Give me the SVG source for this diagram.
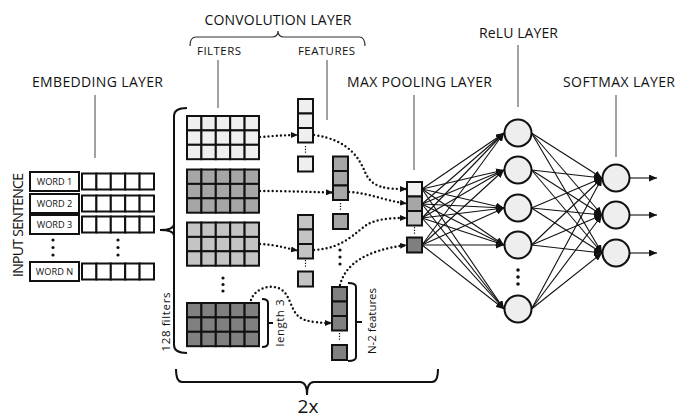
<svg xmlns="http://www.w3.org/2000/svg" xmlns:xlink="http://www.w3.org/1999/xlink" width="677" height="418" viewBox="0 0 677 418">
<style>
  text { font-family: "Open Sans", "Liberation Sans", sans-serif; fill: #111; }
  .lbl { font-size: 14px; }
  .sub { font-size: 11.5px; }
  .word { font-size: 9.2px; text-anchor: middle; }
  .cell { stroke: #111; stroke-width: 2; }
  .ptr { stroke: #444; stroke-width: 1; fill: none; }
  .brace { stroke: #111; stroke-width: 2; fill: none; }
  .dotted { stroke: #111; stroke-width: 2.4; stroke-dasharray: 0 4.2; stroke-linecap: round; fill: none; }
  .tiny { stroke: #111; stroke-width: 1.2; stroke-dasharray: 1.2 1.6; fill: none; }
  .net { stroke: #111; stroke-width: 1.1; fill: none; }
  .node { fill: #eeeeee; stroke: #111; stroke-width: 2; }
  .dot { fill: #111; }
</style>
<defs>
  <marker id="ah" markerUnits="userSpaceOnUse" markerWidth="8" markerHeight="7" refX="8" refY="3.5" orient="auto">
    <path d="M0,0 L8,3.5 L0,7 z" fill="#111"/>
  </marker>
  <marker id="ahs" markerUnits="userSpaceOnUse" markerWidth="7" markerHeight="6" refX="7" refY="3" orient="auto">
    <path d="M0,0 L7,3 L0,6 z" fill="#111"/>
  </marker>
  <g id="grid">
    <rect class="cell" x="0" y="0" width="14.4" height="14.4"/>
    <rect class="cell" x="14.4" y="0" width="14.4" height="14.4"/>
    <rect class="cell" x="28.8" y="0" width="14.4" height="14.4"/>
    <rect class="cell" x="43.2" y="0" width="14.4" height="14.4"/>
    <rect class="cell" x="57.6" y="0" width="14.4" height="14.4"/>
    <rect class="cell" x="0" y="14.4" width="14.4" height="14.4"/>
    <rect class="cell" x="14.4" y="14.4" width="14.4" height="14.4"/>
    <rect class="cell" x="28.8" y="14.4" width="14.4" height="14.4"/>
    <rect class="cell" x="43.2" y="14.4" width="14.4" height="14.4"/>
    <rect class="cell" x="57.6" y="14.4" width="14.4" height="14.4"/>
    <rect class="cell" x="0" y="28.8" width="14.4" height="14.4"/>
    <rect class="cell" x="14.4" y="28.8" width="14.4" height="14.4"/>
    <rect class="cell" x="28.8" y="28.8" width="14.4" height="14.4"/>
    <rect class="cell" x="43.2" y="28.8" width="14.4" height="14.4"/>
    <rect class="cell" x="57.6" y="28.8" width="14.4" height="14.4"/>
  </g>
  <g id="vec">
    <rect class="cell" x="0" y="0" width="14.4" height="16" fill="#fff"/>
    <rect class="cell" x="14.4" y="0" width="14.4" height="16" fill="#fff"/>
    <rect class="cell" x="28.8" y="0" width="14.4" height="16" fill="#fff"/>
    <rect class="cell" x="43.2" y="0" width="14.4" height="16" fill="#fff"/>
    <rect class="cell" x="57.6" y="0" width="14.4" height="16" fill="#fff"/>
  </g>
  <g id="col">
    <rect class="cell" x="0" y="0" width="15" height="14.5"/>
    <rect class="cell" x="0" y="14.5" width="15" height="14.5"/>
    <rect class="cell" x="0" y="29" width="15" height="14.5"/>
  </g>
</defs>

<!-- Labels and pointer lines -->
<g id="labels">
  <text class="lbl" x="278" y="25" text-anchor="middle" textLength="147">CONVOLUTION LAYER</text>
  <text class="sub" x="219" y="55" text-anchor="middle" textLength="44">FILTERS</text>
  <text class="sub" x="326.5" y="55" text-anchor="middle" textLength="57">FEATURES</text>
  <text class="lbl" x="97.5" y="87" text-anchor="middle" textLength="131">EMBEDDING LAYER</text>
  <text class="lbl" x="419.5" y="87" text-anchor="middle" textLength="145">MAX POOLING LAYER</text>
  <text class="lbl" x="518.5" y="38" text-anchor="middle" textLength="79">ReLU LAYER</text>
  <text class="lbl" x="619" y="87" text-anchor="middle" textLength="112">SOFTMAX LAYER</text>
  <text class="lbl" x="23" y="225" text-anchor="middle" transform="rotate(-90 23 225)" textLength="104">INPUT SENTENCE</text>
  <text class="sub" x="170" y="322" text-anchor="middle" transform="rotate(-90 170 322)" textLength="59">128 filters</text>
  <text class="sub" x="284" y="323" text-anchor="middle" transform="rotate(-90 284 323)" textLength="47">length 3</text>
  <text class="sub" x="376" y="321" text-anchor="middle" transform="rotate(-90 376 321)" textLength="66">N-2 features</text>
  <text x="308" y="413" text-anchor="middle" style="font-size:19px">2x</text>
  <path class="ptr" d="M95,95 V158 M218,60 V108 M327,60 V120 M414,95 V170 M518,45 V107 M616,95 V157"/>
  <path d="M190,46 Q190,37 196,37 L272,37 Q278,37 278,31 Q278,37 284,37 L359,37 Q365,37 365,46" fill="none" stroke="#333" stroke-width="1.2"/>
</g>

<!-- Braces -->
<g id="braces">
  <path class="brace" d="M187,108 Q174,108 174,116 L174,345 Q174,353 187,353"/>
  <path class="brace" d="M174,224 Q174,230 160,230 Q174,230 174,236"/>
  <path class="brace" d="M262,299 Q268,299 268,303 L268,343 Q268,347 262,347 M268,323 L273,323"/>
  <path class="brace" d="M348,283 Q356,283 356,287 L356,357 Q356,361 348,361 M356,322 L362,322"/>
  <path class="brace" d="M176,369 Q176,382 182,382 L300,382 Q307,382 307,395 Q307,382 314,382 L432,382 Q438,382 438,369"/>
</g>

<!-- Embedding layer -->
<g id="word1">
  <rect class="cell" x="30" y="172" width="49" height="19" fill="#fff"/>
  <text class="word" x="54.5" y="185">WORD 1</text>
  <use xlink:href="#vec" href="#vec" x="82" y="173.5"/>
</g>
<g id="word2">
  <rect class="cell" x="30" y="194" width="49" height="19" fill="#fff"/>
  <text class="word" x="54.5" y="207">WORD 2</text>
  <use xlink:href="#vec" href="#vec" x="82" y="195.5"/>
</g>
<g id="word3">
  <rect class="cell" x="30" y="215" width="49" height="19" fill="#fff"/>
  <text class="word" x="54.5" y="228">WORD 3</text>
  <use xlink:href="#vec" href="#vec" x="82" y="216.5"/>
</g>
<g id="wordN">
  <rect class="cell" x="30" y="262" width="49" height="19" fill="#fff"/>
  <text class="word" x="54.5" y="275">WORD N</text>
  <use xlink:href="#vec" href="#vec" x="82" y="263.5"/>
</g>
<g id="embed-dots">
  <circle class="dot" cx="53" cy="240" r="1.6"/><circle class="dot" cx="53" cy="247.5" r="1.6"/><circle class="dot" cx="53" cy="255" r="1.6"/>
  <circle class="dot" cx="118" cy="240" r="1.6"/><circle class="dot" cx="118" cy="247.5" r="1.6"/><circle class="dot" cx="118" cy="255" r="1.6"/>
</g>

<!-- Filters -->
<g id="filter1"><use xlink:href="#grid" href="#grid" x="187" y="116" fill="#efefef"/></g>
<g id="filter2"><use xlink:href="#grid" href="#grid" x="187" y="169.5" fill="#a6a6a6"/></g>
<g id="filter3"><use xlink:href="#grid" href="#grid" x="187" y="222.5" fill="#c4c4c4"/></g>
<g id="filter4"><use xlink:href="#grid" href="#grid" x="187" y="303" fill="#808080"/></g>
<g id="filter-dots">
  <circle class="dot" cx="223" cy="278" r="1.6"/><circle class="dot" cx="223" cy="284.5" r="1.6"/><circle class="dot" cx="223" cy="291" r="1.6"/>
</g>

<!-- Features -->
<g id="feature1">
  <use xlink:href="#col" href="#col" x="298" y="99" fill="#efefef"/>
  <path class="tiny" d="M305.5,146 V154"/>
  <rect class="cell" x="298" y="156.5" width="15" height="15" fill="#efefef"/>
</g>
<g id="feature2">
  <use xlink:href="#col" href="#col" x="333" y="156.5" fill="#a6a6a6"/>
  <path class="tiny" d="M340.5,203 V211"/>
  <rect class="cell" x="333" y="214" width="15" height="15" fill="#a6a6a6"/>
</g>
<g id="feature3">
  <use xlink:href="#col" href="#col" x="298" y="215" fill="#c4c4c4"/>
  <path class="tiny" d="M305.5,260 V268"/>
  <rect class="cell" x="298" y="271.5" width="15" height="15" fill="#c4c4c4"/>
</g>
<g id="feature4">
  <use xlink:href="#col" href="#col" x="332" y="287" fill="#808080"/>
  <path class="tiny" d="M339.5,333 V341"/>
  <rect class="cell" x="332" y="345" width="15" height="15" fill="#808080"/>
</g>
<g id="feature-dots">
  <circle class="dot" cx="340" cy="250" r="1.6"/><circle class="dot" cx="340" cy="257" r="1.6"/><circle class="dot" cx="340" cy="264" r="1.6"/>
</g>

<!-- Max pooling -->
<g id="maxpool">
  <rect class="cell" x="407" y="182" width="15" height="14.5" fill="#f0f0f0"/>
  <rect class="cell" x="407" y="196.5" width="15" height="14.5" fill="#a6a6a6"/>
  <rect class="cell" x="407" y="211" width="15" height="14.5" fill="#c4c4c4"/>
  <path class="tiny" d="M414.5,227 V235"/>
  <rect class="cell" x="407" y="237.5" width="15" height="15" fill="#7f7f7f"/>
</g>

<!-- ReLU nodes -->
<g id="relu1"><circle class="node" cx="518" cy="133" r="13.5"/></g>
<g id="relu2"><circle class="node" cx="518" cy="170" r="13.5"/></g>
<g id="relu3"><circle class="node" cx="518" cy="208" r="13.5"/></g>
<g id="relu4"><circle class="node" cx="518" cy="245" r="13.5"/></g>
<g id="relu5"><circle class="node" cx="518" cy="309" r="13.5"/></g>
<g id="relu-dots">
  <circle class="dot" cx="518" cy="270" r="1.8"/><circle class="dot" cx="518" cy="277" r="1.8"/><circle class="dot" cx="518" cy="284" r="1.8"/>
</g>

<!-- Softmax nodes -->
<g id="softmax1"><circle class="node" cx="616" cy="178" r="13.5"/></g>
<g id="softmax2"><circle class="node" cx="616" cy="215" r="13.5"/></g>
<g id="softmax3"><circle class="node" cx="616" cy="253" r="13.5"/></g>

<!-- Connectors -->
<g id="connectors">
  <g id="dotted-arrows">
    <path class="dotted" marker-end="url(#ahs)" d="M260,137 C275,136 285,135 298,135"/>
    <path class="dotted" marker-end="url(#ahs)" d="M260,191 C290,191 310,192 333,192.5"/>
    <path class="dotted" marker-end="url(#ahs)" d="M260,244 C280,245 288,249 298,250.5"/>
    <path class="dotted" marker-end="url(#ahs)" d="M251,300 C255,288 272,283 282,290 C292,297 290,315 305,320 C312,322 320,323 332,323"/>
    <path class="dotted" marker-end="url(#ahs)" d="M314,135 C350,140 360,160 365,172 C372,188 385,189 407,189"/>
    <path class="dotted" marker-end="url(#ahs)" d="M349,192 C370,193 385,201 407,203.5"/>
    <path class="dotted" marker-end="url(#ahs)" d="M314,250 C345,248 355,232 368,224 C380,218 395,218 407,218"/>
    <path class="dotted" marker-end="url(#ahs)" d="M340,285 C345,265 365,250 407,245"/>
  </g>
  <g id="pool-to-relu">
    <path class="net" marker-end="url(#ah)" d="M422,189 L504,133"/>
    <path class="net" marker-end="url(#ah)" d="M422,189 L504,170"/>
    <path class="net" marker-end="url(#ah)" d="M422,189 L504,208"/>
    <path class="net" marker-end="url(#ah)" d="M422,189 L504,245"/>
    <path class="net" marker-end="url(#ah)" d="M422,189 L504,309"/>
    <path class="net" marker-end="url(#ah)" d="M422,204 L504,133"/>
    <path class="net" marker-end="url(#ah)" d="M422,204 L504,170"/>
    <path class="net" marker-end="url(#ah)" d="M422,204 L504,208"/>
    <path class="net" marker-end="url(#ah)" d="M422,204 L504,245"/>
    <path class="net" marker-end="url(#ah)" d="M422,204 L504,309"/>
    <path class="net" marker-end="url(#ah)" d="M422,218 L504,133"/>
    <path class="net" marker-end="url(#ah)" d="M422,218 L504,170"/>
    <path class="net" marker-end="url(#ah)" d="M422,218 L504,208"/>
    <path class="net" marker-end="url(#ah)" d="M422,218 L504,245"/>
    <path class="net" marker-end="url(#ah)" d="M422,218 L504,309"/>
    <path class="net" marker-end="url(#ah)" d="M422,245 L504,133"/>
    <path class="net" marker-end="url(#ah)" d="M422,245 L504,170"/>
    <path class="net" marker-end="url(#ah)" d="M422,245 L504,208"/>
    <path class="net" marker-end="url(#ah)" d="M422,245 L504,245"/>
    <path class="net" marker-end="url(#ah)" d="M422,245 L504,309"/>
  </g>
  <g id="relu-to-softmax">
    <path class="net" marker-end="url(#ah)" d="M531.5,133 L602,178"/>
    <path class="net" marker-end="url(#ah)" d="M531.5,133 L602,215"/>
    <path class="net" marker-end="url(#ah)" d="M531.5,133 L602,253"/>
    <path class="net" marker-end="url(#ah)" d="M531.5,170 L602,178"/>
    <path class="net" marker-end="url(#ah)" d="M531.5,170 L602,215"/>
    <path class="net" marker-end="url(#ah)" d="M531.5,170 L602,253"/>
    <path class="net" marker-end="url(#ah)" d="M531.5,208 L602,178"/>
    <path class="net" marker-end="url(#ah)" d="M531.5,208 L602,215"/>
    <path class="net" marker-end="url(#ah)" d="M531.5,208 L602,253"/>
    <path class="net" marker-end="url(#ah)" d="M531.5,245 L602,178"/>
    <path class="net" marker-end="url(#ah)" d="M531.5,245 L602,215"/>
    <path class="net" marker-end="url(#ah)" d="M531.5,245 L602,253"/>
    <path class="net" marker-end="url(#ah)" d="M531.5,309 L602,178"/>
    <path class="net" marker-end="url(#ah)" d="M531.5,309 L602,215"/>
    <path class="net" marker-end="url(#ah)" d="M531.5,309 L602,253"/>
  </g>
  <g id="outputs">
    <path class="net" marker-end="url(#ah)" d="M629.5,178 L657,178"/>
    <path class="net" marker-end="url(#ah)" d="M629.5,215 L657,215"/>
    <path class="net" marker-end="url(#ah)" d="M629.5,253 L657,253"/>
  </g>
</g>
</svg>
